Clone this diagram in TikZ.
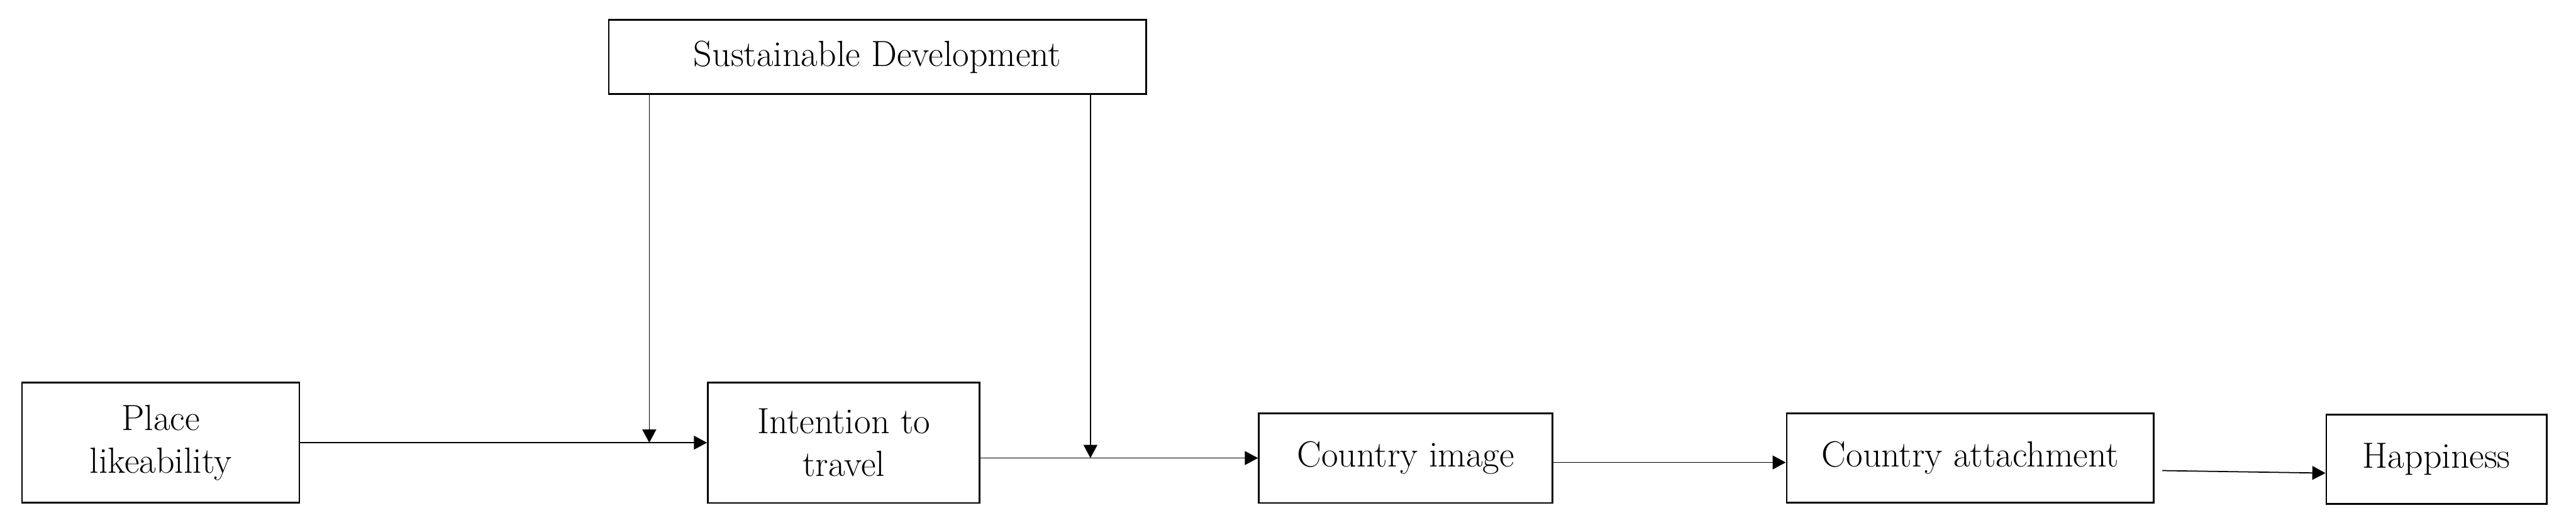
\documentclass[tikz,border=0pt]{standalone}
\usepackage{tikz}
\usetikzlibrary{arrows.meta,positioning,calc}

\begin{document}
\begin{tikzpicture}[
    node distance=1cm and 4cm,
    box/.style={rectangle, draw, line width=0.8pt, align=center, inner sep=2pt, font=\fontsize{16.5}{19.5}\selectfont},
    arrow/.style={-{Triangle[length=0.21cm, width=0.22cm]}, line width=0.5pt},
]
    \useasboundingbox (0,0) rectangle (41.04,8.44);

    \node[box, minimum width=4.42cm, minimum height=1.91cm] (place) at (2.56,1.385) {Place\\likeability};
    \node[box, minimum width=4.33cm, minimum height=1.92cm, right=6.48cm of place] (intent) {Intention to\\travel};
    \node[box, minimum width=8.56cm, minimum height=1.18cm, above=4.57cm of intent, xshift=0.535cm] (sustain) {Sustainable Development};
    \node[box, minimum width=4.68cm, minimum height=1.43cm, right=4.42cm of intent, yshift=-0.245cm] (image) {Country image};
    \node[box, minimum width=5.85cm, minimum height=1.42cm, right=3.70cm of image] (attach) {Country attachment};
    \node[box, minimum width=3.51cm, minimum height=1.42cm, right=2.72cm of attach, yshift=-0.02cm] (happy) {Happiness};

    \draw[arrow] (place.east) -- (intent.west);
    \draw[arrow] (intent.east |- image.west) -- (image.west);
    \draw[arrow] ([yshift=-0.07cm]image.east) -- ([yshift=-0.07cm]attach.west);
    \coordinate (attach_out) at ([xshift=0.12cm, yshift=-0.2cm]attach.east);
    \draw[arrow] (attach_out) -- ([yshift=-0.22cm]happy.west);

    % moderating paths
    \coordinate (mod1) at ($ (place.east)!0.858!(intent.west) $);
    \coordinate (mod2) at ($ (intent.east |- image.west)!0.396!(image.west) $);
    \draw[arrow] (sustain.south -| mod1) -- (mod1);
    \draw[arrow] (sustain.south -| mod2) -- (mod2);
\end{tikzpicture}
\end{document}
